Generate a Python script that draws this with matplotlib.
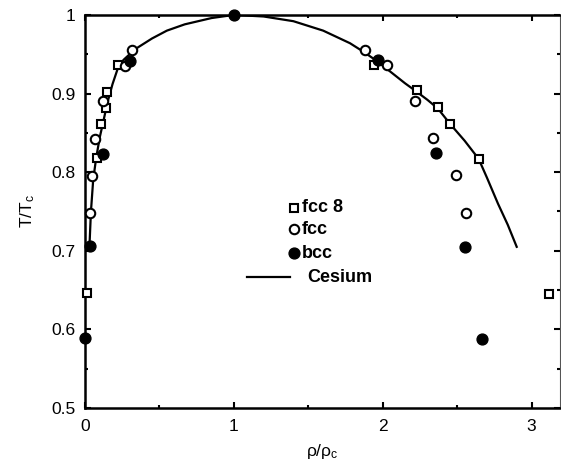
import numpy as np
import matplotlib.pyplot as plt
from matplotlib.ticker import MultipleLocator, FormatStrFormatter

plt.rcParams['font.family'] = ['Liberation Sans', 'DejaVu Sans']
plt.rcParams['mathtext.default'] = 'regular'

# fcc with 8 neighbours
fcc8_rho = [0.015, 0.083, 0.110, 0.140, 0.145, 0.224, 1.94, 2.23, 2.37, 2.454, 2.644, 3.12]
fcc8_t = [0.646, 0.818, 0.861, 0.882, 0.902, 0.936, 0.936, 0.904, 0.883, 0.861, 0.817, 0.645]

# fcc
fcc_rho = [0.034, 0.050, 0.067, 0.120, 0.270, 0.313, 1.88, 2.03, 2.22, 2.34, 2.49, 2.56]
fcc_t = [0.748, 0.795, 0.842, 0.890, 0.935, 0.955, 0.955, 0.936, 0.890, 0.843, 0.796, 0.748]

# bcc
bcc_rho = [0.0, 0.034, 0.123, 0.300, 1.0, 1.97, 2.36, 2.55, 2.67]
bcc_t = [0.589, 0.706, 0.823, 0.941, 1.0, 0.943, 0.824, 0.705, 0.588]

# Cesium coexistence curve
cs_rho = [0.030, 0.040, 0.055, 0.075, 0.100, 0.125, 0.150, 0.185, 0.224, 0.260,
          0.300, 0.350, 0.450, 0.550, 0.670, 0.850, 1.000, 1.200, 1.400, 1.600,
          1.780, 1.880, 1.970, 2.050, 2.150, 2.230, 2.300, 2.370, 2.454, 2.550,
          2.644, 2.700, 2.774, 2.840, 2.900]
cs_t = [0.706, 0.750, 0.790, 0.818, 0.845, 0.866, 0.888, 0.912, 0.934, 0.943,
        0.950, 0.958, 0.970, 0.980, 0.988, 0.996, 1.000, 0.998, 0.992, 0.980,
        0.964, 0.952, 0.940, 0.928, 0.913, 0.902, 0.892, 0.881, 0.861, 0.840,
        0.817, 0.793, 0.760, 0.733, 0.705]

SQ = dict(marker='s', ms=5.8, mfc='white', mec='black', mew=1.5, ls='none')
CI = dict(marker='o', ms=6.8, mfc='white', mec='black', mew=1.5, ls='none')
DOT = dict(marker='o', ms=7.8, mfc='black', mec='black', ls='none')


def main():
    fig = plt.figure(figsize=(5.61, 4.66), dpi=100)
    ax = fig.add_axes([0.1515, 0.1245, 0.8465, 0.8435])

    ax.plot(cs_rho, cs_t, '-', color='black', lw=1.6, zorder=2)
    ax.plot(fcc8_rho, fcc8_t, clip_on=False, zorder=3, **SQ)
    ax.plot(fcc_rho, fcc_t, clip_on=False, zorder=3, **CI)
    ax.plot(bcc_rho, bcc_t, clip_on=False, zorder=4, **DOT)

    ax.set_xlim(0, 3.19)
    ax.set_ylim(0.5, 1.0)
    ax.xaxis.set_major_locator(MultipleLocator(1))
    ax.xaxis.set_minor_locator(MultipleLocator(0.5))
    ax.yaxis.set_major_locator(MultipleLocator(0.1))
    ax.yaxis.set_minor_locator(MultipleLocator(0.05))
    ax.xaxis.set_major_formatter(FormatStrFormatter('%g'))
    ax.yaxis.set_major_formatter(FormatStrFormatter('%g'))
    ax.tick_params(which='both', direction='in', top=True, right=True,
                   labelsize=12.5, width=1.5)
    ax.tick_params(axis='x', pad=8)
    ax.tick_params(axis='y', pad=7)
    ax.tick_params(which='major', length=4)
    ax.tick_params(which='minor', length=2)

    for side in ['left', 'bottom', 'top']:
        ax.spines[side].set_linewidth(1.8)
    ax.spines['right'].set_linewidth(0.8)
    ax.spines['right'].set_color('#555555')

    ax.set_xlabel(r'ρ/ρ$_c$', fontsize=12.5, labelpad=6)
    ax.set_ylabel(r'T/T$_c$', fontsize=12.5, labelpad=10)

    # key
    tr = ax.transAxes
    key_x, key_tx = 0.44, 0.457
    ax.plot([key_x], [0.509], transform=tr, **SQ)
    ax.text(key_tx, 0.509, 'fcc 8', transform=tr, fontsize=13, fontweight='bold', va='center')
    ax.plot([key_x], [0.455], transform=tr, **CI)
    ax.text(key_tx, 0.455, 'fcc', transform=tr, fontsize=13, fontweight='bold', va='center')
    ax.plot([key_x], [0.394], transform=tr, **DOT)
    ax.text(key_tx, 0.394, 'bcc', transform=tr, fontsize=13, fontweight='bold', va='center')
    ax.plot([0.341, 0.432], [0.333, 0.333], '-', color='black', lw=1.6, transform=tr)
    ax.text(0.467, 0.333, 'Cesium', transform=tr, fontsize=13, fontweight='bold', va='center')

    fig.savefig('out.png', dpi=100)


if __name__ == '__main__':
    main()
